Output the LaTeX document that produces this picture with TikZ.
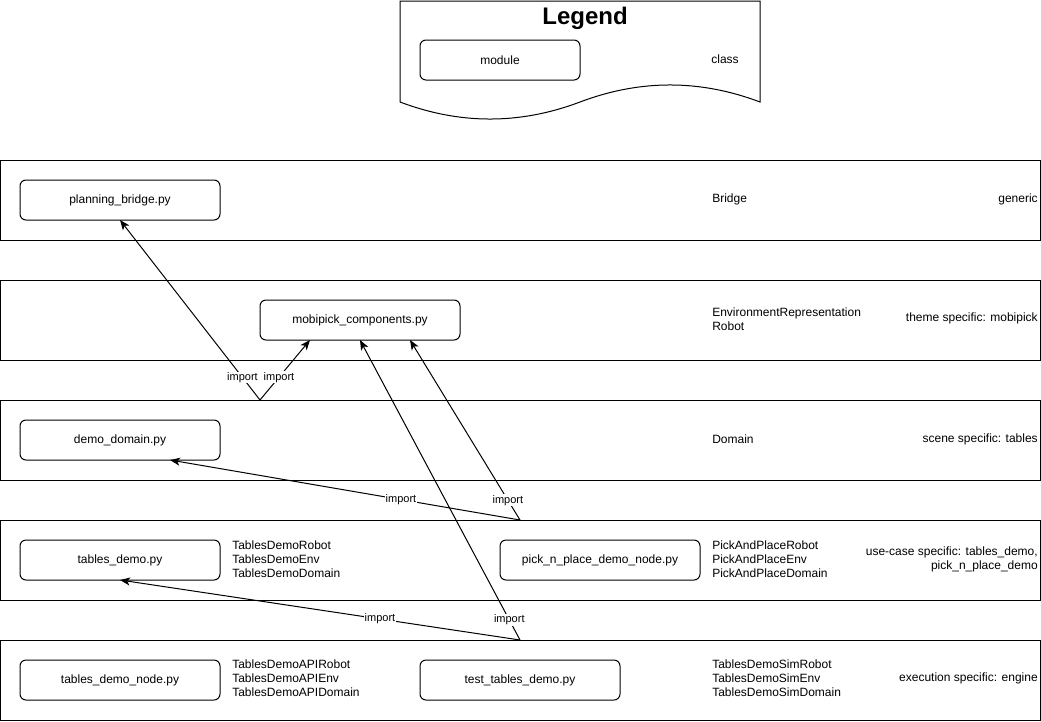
\documentclass[tikz,border=0pt]{standalone}
\usepackage{fontspec}
\setmainfont{Liberation Sans}
\usetikzlibrary{arrows.meta}
\begin{document}
\begin{tikzpicture}[x=0.75pt,y=-0.75pt,
  every node/.style={font=\fontsize{9}{10.5}\selectfont},
  band/.style={draw,line width=0.75pt,minimum width=780pt,minimum height=60pt,inner sep=0pt,outer sep=0pt},
  module/.style={draw,line width=0.75pt,rounded corners=4.5pt,minimum width=150pt,minimum height=30pt,inner sep=0pt,outer sep=0pt},
  classes/.style={anchor=west,align=left,inner sep=0pt},
  scopetxt/.style={anchor=east,align=right,inner sep=0pt},
  imp/.style={draw,line width=0.75pt,-{Stealth[length=7.5pt,width=6pt,inset=2pt]}},
  implabel/.style={font=\fontsize{8.25}{10}\selectfont,fill=white,inner sep=0.5pt}]
\useasboundingbox (0,0) rectangle (1041,721);

% legend sheet with wavy bottom edge
\draw[line width=0.75pt,fill=white] (400,102) -- (400,1) -- (760,1) -- (760,102)
  .. controls (700,79.3) and (640,79.3) .. (580,102)
  .. controls (520,124.7) and (460,124.7) .. (400,102) -- cycle;
\node[font=\fontsize{18}{20}\selectfont\bfseries,inner sep=0pt] (legendtitle) at (585,18) {Legend};
\node[module,minimum width=120pt] (legmodule) at (500,60) {module};
\node[inner sep=0pt] (legclass) at (725,59) {class};

% layers
\node[band] (generic) at (520,200) {};
\node[band] (theme) at (520,320) {};
\node[band] (scene) at (520,440) {};
\node[band] (usecase) at (520,560) {};
\node[band] (exec) at (520,680) {};

% generic
\node[module] (pb) at (120,200) {planning\_bridge.py};
\node[classes] (pbcls) at (712,199) {Bridge};
\node[scopetxt] (genericlbl) at (1038,199) {generic};

% theme specific
\node[module] (mc) at (360,320) {mobipick\_components.py};
\node[classes] (mccls) at (712,319) {EnvironmentRepresentation\\Robot};
\node[scopetxt] (themelbl) at (1038,318) {theme specific: mobipick};

% scene specific
\node[module] (dd) at (120,440) {demo\_domain.py};
\node[classes] (ddcls) at (712,439) {Domain};
\node[scopetxt] (scenelbl) at (1038,439) {scene specific: tables};

% use-case specific
\node[module] (td) at (120,560) {tables\_demo.py};
\node[classes] (tdcls) at (232,559) {TablesDemoRobot\\TablesDemoEnv\\TablesDemoDomain};
\node[module] (pnp) at (600,560) {pick\_n\_place\_demo\_node.py};
\node[classes] (pnpcls) at (712,559) {PickAndPlaceRobot\\PickAndPlaceEnv\\PickAndPlaceDomain};
\node[scopetxt] (usecaselbl) at (1038,559) {use-case specific: tables\_demo,\\pick\_n\_place\_demo};

% execution specific
\node[module] (tdn) at (120,680) {tables\_demo\_node.py};
\node[classes] (tdncls) at (232,678) {TablesDemoAPIRobot\\TablesDemoAPIEnv\\TablesDemoAPIDomain};
\node[module] (ttd) at (520,680) {test\_tables\_demo.py};
\node[classes] (ttdcls) at (712,678) {TablesDemoSimRobot\\TablesDemoSimEnv\\TablesDemoSimDomain};
\node[scopetxt] (execlbl) at (1038,678) {execution specific: engine};

% import sources on the layer borders
\coordinate (s3) at (260,400);
\coordinate (s4) at (520,520);
\coordinate (s5) at (520,640);

% imports
\path[imp] (s3) -- node[implabel,pos=0.125] {import} (pb.south);
\path[imp] (s3) -- node[implabel,pos=0.38] {import} ([xshift=-37.5pt]mc.south);
\path[imp] (s4) -- node[implabel,pos=0.34] {import} ([xshift=37.5pt]dd.south);
\path[imp] (s4) -- node[implabel,pos=0.11] {import} ([xshift=37.5pt]mc.south);
\path[imp] (s5) -- node[implabel,pos=0.35] {import} (td.south);
\path[imp] (s5) -- node[implabel,pos=0.067] {import} (mc.south);
\end{tikzpicture}
\end{document}
